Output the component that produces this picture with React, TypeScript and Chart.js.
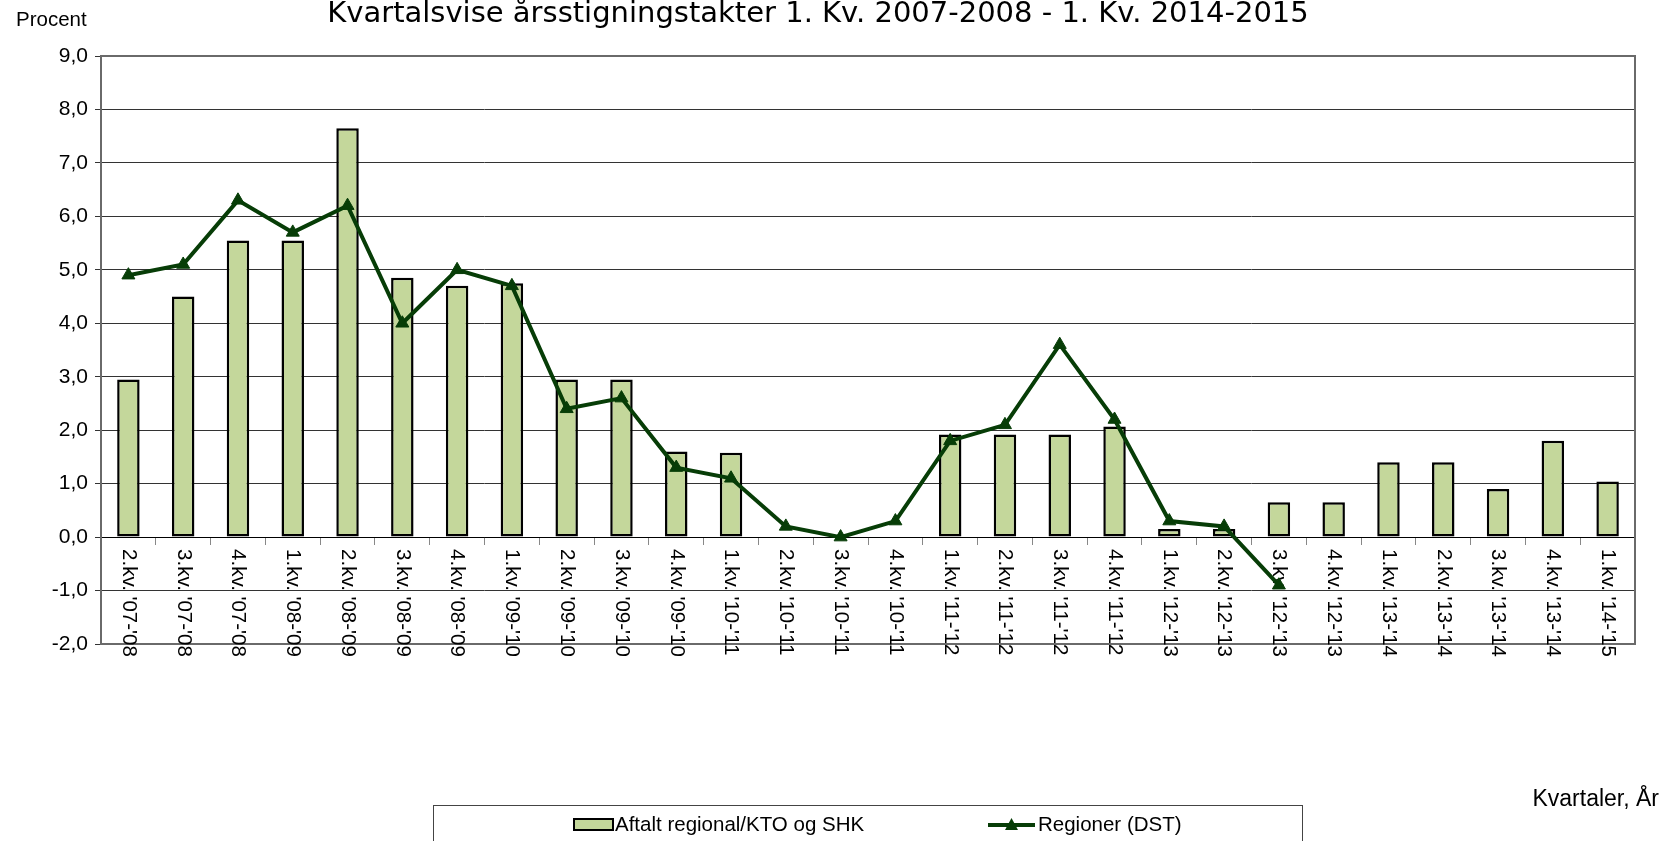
import React, { useEffect, useRef } from 'react';
import { Chart, registerables } from 'chart.js';

Chart.register(...registerables);

const categories: string[] = [
  "2.kv. '07-'08", "3.kv. '07-'08", "4.kv. '07-'08",
  "1.kv. '08-'09", "2.kv. '08-'09", "3.kv. '08-'09", "4.kv. '08-'09",
  "1.kv. '09-'10", "2.kv. '09-'10", "3.kv. '09-'10", "4.kv. '09-'10",
  "1.kv. '10-'11", "2.kv. '10-'11", "3.kv. '10-'11", "4.kv. '10-'11",
  "1.kv. '11-'12", "2.kv. '11-'12", "3.kv. '11-'12", "4.kv. '11-'12",
  "1.kv. '12-'13", "2.kv. '12-'13", "3.kv. '12-'13", "4.kv. '12-'13",
  "1.kv. '13-'14", "2.kv. '13-'14", "3.kv. '13-'14", "4.kv. '13-'14",
  "1.kv. '14-'15",
];

const agreedValues: (number | null)[] = [
  2.95, 4.5, 5.55, 5.55, 7.65, 4.85, 4.7, 4.75, 2.95, 2.95, 1.6, 1.58,
  null, null, null, 1.92, 1.92, 1.92, 2.07, 0.15, 0.15, 0.65, 0.65,
  1.4, 1.4, 0.9, 1.8, 1.04,
];

const regionValues: (number | null)[] = [
  4.9, 5.1, 6.3, 5.7, 6.2, 4.0, 5.0, 4.7, 2.4, 2.6, 1.3, 1.1,
  0.2, 0.0, 0.3, 1.8, 2.1, 3.6, 2.2, 0.3, 0.2, -0.9,
  null, null, null, null, null, null,
];

const titleText = 'Kvartalsvise årsstigningstakter 1. Kv. 2007-2008 - 1. Kv. 2014-2015';
const yAxisTitle = 'Procent';
const xAxisTitle = 'Kvartaler, År';
const seriesNames = ['Aftalt regional/KTO og SHK', 'Regioner (DST)'];
const yMin = -2;
const yMax = 9;

const BAR_FILL = '#C4D79B';
const LINE_COLOR = '#073D07';
const FONT = '"Liberation Sans", Arial, sans-serif';

const decorations = {
  id: 'decorations',
  beforeDatasetsDraw(chart: any) {
    const { ctx, chartArea, scales } = chart;
    const xs = scales.x;
    const ys = scales.y;
    ctx.save();
    ctx.strokeStyle = '#6a6a6a';
    ctx.lineWidth = 2;
    ctx.strokeRect(chartArea.left, chartArea.top, chartArea.right - chartArea.left, chartArea.bottom - chartArea.top);
    const zeroY = ys.getPixelForValue(0);
    ctx.fillStyle = '#000';
    ctx.font = '20.5px ' + FONT;
    ctx.textAlign = 'left';
    ctx.textBaseline = 'middle';
    categories.forEach((lab, i) => {
      const px = xs.getPixelForValue(i);
      ctx.save();
      ctx.translate(px, zeroY + 12);
      ctx.rotate(Math.PI / 2);
      ctx.fillText(lab, 0, 0);
      ctx.restore();
    });
    ctx.restore();
  },
  afterDraw(chart: any) {
    const { ctx } = chart;
    ctx.save();
    ctx.fillStyle = '#000';
    ctx.font = '29px "Comic Sans MS", "DejaVu Sans", sans-serif';
    ctx.textAlign = 'center';
    ctx.textBaseline = 'middle';
    ctx.fillText(titleText, 818, 14);
    ctx.font = '20.5px ' + FONT;
    ctx.textAlign = 'left';
    ctx.fillText(yAxisTitle, 16, 20);
    ctx.font = '23px ' + FONT;
    ctx.textAlign = 'right';
    ctx.fillText(xAxisTitle, 1659, 800);
    ctx.strokeStyle = '#444';
    ctx.lineWidth = 1;
    ctx.strokeRect(433.5, 805.5, 869, 60);
    ctx.fillStyle = BAR_FILL;
    ctx.fillRect(574, 819, 39, 11);
    ctx.strokeStyle = '#000';
    ctx.lineWidth = 2;
    ctx.strokeRect(574, 819, 39, 11);
    ctx.fillStyle = '#000';
    ctx.font = '20.5px ' + FONT;
    ctx.textAlign = 'left';
    ctx.fillText(seriesNames[0], 615, 825);
    ctx.strokeStyle = LINE_COLOR;
    ctx.lineWidth = 4;
    ctx.beginPath();
    ctx.moveTo(988, 825);
    ctx.lineTo(1035, 825);
    ctx.stroke();
    ctx.fillStyle = LINE_COLOR;
    ctx.beginPath();
    ctx.moveTo(1011.5, 818);
    ctx.lineTo(1018, 830);
    ctx.lineTo(1005, 830);
    ctx.closePath();
    ctx.fill();
    ctx.fillStyle = '#000';
    ctx.fillText(seriesNames[1], 1038, 825);
    ctx.restore();
  },
};

export default function App() {
  const ref = useRef<HTMLCanvasElement | null>(null);
  useEffect(() => {
    if (!ref.current) return;
    const chart = new Chart(ref.current, {
      type: 'bar',
      data: {
        labels: categories,
        datasets: [
          {
            type: 'line',
            label: seriesNames[1],
            data: regionValues,
            borderColor: LINE_COLOR,
            backgroundColor: LINE_COLOR,
            borderWidth: 4,
            pointStyle: 'triangle',
            pointRadius: 7.5,
            pointBorderWidth: 1,
            pointBackgroundColor: LINE_COLOR,
            pointBorderColor: LINE_COLOR,
            tension: 0,
            spanGaps: false,
          } as any,
          {
            type: 'bar',
            label: seriesNames[0],
            data: agreedValues,
            backgroundColor: BAR_FILL,
            borderColor: '#000',
            borderWidth: 2.5,
            borderSkipped: false,
            barPercentage: 0.41,
            categoryPercentage: 1,
          } as any,
        ],
      },
      options: {
        responsive: false,
        animation: false,
        layout: { padding: { left: 0, right: 30, top: 56, bottom: 197 } },
        plugins: {
          legend: { display: false },
          title: { display: false },
          tooltip: { enabled: false },
        },
        scales: {
          x: {
            type: 'category',
            position: { y: 0 } as any,
            offset: true,
            afterFit: (s: any) => { s.height = 0; },
            ticks: { display: false },
            grid: {
              offset: true,
              drawOnChartArea: false,
              drawTicks: true,
              tickLength: 7,
              color: '#888',
            },
            border: { display: true, color: '#000', width: 1 },
          },
          y: {
            min: yMin,
            max: yMax,
            afterFit: (s: any) => { s.width = 101; },
            ticks: {
              stepSize: 1,
              color: '#000',
              padding: 7,
              font: { size: 21, family: FONT },
              callback: (v: any) => Number(v).toFixed(1).replace('.', ','),
            },
            grid: {
              color: '#333',
              lineWidth: 1,
              drawTicks: true,
              tickLength: 6,
            },
            border: { display: false },
          },
        },
      },
      plugins: [decorations],
    });
    return () => chart.destroy();
  }, []);
  return (
    <div style={{ position: 'absolute', left: 0, top: 0, width: 1665, height: 841, background: '#fff' }}>
      <canvas ref={ref} width={1665} height={841} style={{ display: 'block' }} />
    </div>
  );
}
